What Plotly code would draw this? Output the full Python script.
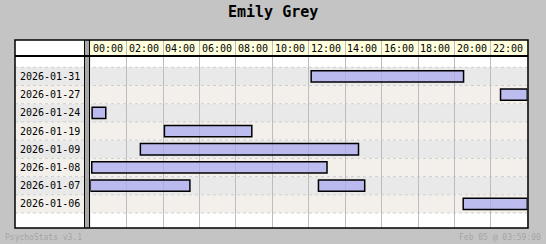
import plotly.graph_objects as go

# Days listed top to bottom, and the play sessions (hours of the day) for each
days = ["2026-01-31", "2026-01-27", "2026-01-24", "2026-01-19",
        "2026-01-09", "2026-01-08", "2026-01-07", "2026-01-06"]
session_day = ["2026-01-31", "2026-01-27", "2026-01-24", "2026-01-19",
               "2026-01-09", "2026-01-08", "2026-01-07", "2026-01-07",
               "2026-01-06"]
session_start = [12.13, 22.53, 0.10, 4.07, 2.75, 0.08, 0.00, 12.53, 20.48]
session_end = [20.50, 24.00, 0.85, 8.87, 14.73, 13.00, 5.47, 15.07, 24.00]
hour_ticks = [0, 2, 4, 6, 8, 10, 12, 14, 16, 18, 20, 22]
hour_labels = ["00:00", "02:00", "04:00", "06:00", "08:00", "10:00",
               "12:00", "14:00", "16:00", "18:00", "20:00", "22:00"]

W, H = 546, 244
MONO = "DejaVu Sans Mono"


def px(x):
    return x / W


def py(y):
    return 1 - y / H


cats = days[::-1]  # bottom-to-top category order
durations = [e - s for s, e in zip(session_start, session_end)]

fig = go.Figure()
fig.add_trace(go.Bar(
    orientation="h",
    y=session_day,
    x=durations,
    base=session_start,
    width=0.62,
    marker=dict(color="rgba(168,168,240,0.72)",
                line=dict(color="black", width=1.5)),
    xaxis="x", yaxis="y",
    hoverinfo="skip",
    showlegend=False,
))

BOX_L, BOX_R, BOX_T, BOX_B = 15, 528, 40, 228
HEAD_B = 57
SEP_L, SEP_R = 84.5, 89.5
PLOT_L, PLOT_R = 90.3, 527.3

shapes = []
# white label column (header cell + padding)
shapes.append(dict(type="rect", xref="paper", yref="paper",
                   x0=px(BOX_L), x1=px(SEP_L), y0=py(BOX_B), y1=py(BOX_T),
                   fillcolor="white", line_width=0, layer="below"))
# header strip
shapes.append(dict(type="rect", xref="paper", yref="paper",
                   x0=px(PLOT_L), x1=px(PLOT_R), y0=py(HEAD_B), y1=py(BOX_T),
                   fillcolor="#ffffdd", line_width=0, layer="below"))
# alternating row bands across label column and plot
for i, d in enumerate(cats):
    shapes.append(dict(type="rect", xref="paper", yref="y",
                       x0=px(BOX_L), x1=px(PLOT_R), y0=i - 0.5, y1=i + 0.5,
                       fillcolor="#f3f0eb" if i % 2 == 0 else "#e9e9e9",
                       line_width=0, layer="below"))
# dashed row separators
for i in range(len(cats) + 1):
    shapes.append(dict(type="line", xref="paper", yref="y",
                       x0=px(BOX_L), x1=px(PLOT_R), y0=i - 0.5, y1=i - 0.5,
                       line=dict(color="#cfcfcf", width=1, dash="3px,3px"),
                       layer="below"))
# column separator (black / grey / black)
shapes.append(dict(type="rect", xref="paper", yref="paper",
                   x0=px(SEP_L), x1=px(SEP_R), y0=py(BOX_B), y1=py(BOX_T),
                   fillcolor="#a8a8a8", line_width=0, layer="above"))
for sx in (SEP_L, SEP_R):
    shapes.append(dict(type="line", xref="paper", yref="paper",
                       x0=px(sx), x1=px(sx), y0=py(BOX_B), y1=py(BOX_T),
                       line=dict(color="black", width=1), layer="above"))
# outer frame and header rule
shapes.append(dict(type="rect", xref="paper", yref="paper",
                   x0=px(BOX_L), x1=px(BOX_R), y0=py(BOX_B), y1=py(BOX_T),
                   line=dict(color="black", width=1.5), layer="above"))
shapes.append(dict(type="line", xref="paper", yref="paper",
                   x0=px(BOX_L), x1=px(BOX_R), y0=py(HEAD_B - 1), y1=py(HEAD_B - 1),
                   line=dict(color="black", width=2), layer="above"))

annotations = []
# row labels
for d in days:
    annotations.append(dict(xref="paper", yref="y", x=px(18), y=d,
                            text=d, showarrow=False, xanchor="left",
                            yanchor="middle",
                            font=dict(family=MONO, size=10, color="black")))
# header hour labels
for h, lab in zip(hour_ticks, hour_labels):
    annotations.append(dict(xref="x2", yref="y2 domain", x=h + 1, y=0.5,
                            text=lab, showarrow=False, xanchor="center",
                            yanchor="middle", xshift=-1,
                            font=dict(family=MONO, size=10, color="black")))
# title and footer
annotations.append(dict(xref="paper", yref="paper", x=0.5, y=py(12),
                        text="<b>Emily Grey</b>", showarrow=False,
                        xanchor="center", yanchor="middle",
                        font=dict(family=MONO, size=15, color="black")))
annotations.append(dict(xref="paper", yref="paper", x=px(3), y=py(237.5),
                        text="PsychoStats v3.1", showarrow=False,
                        xanchor="left", yanchor="middle",
                        font=dict(family=MONO, size=8, color="#a4a4a4")))
annotations.append(dict(xref="paper", yref="paper", x=px(543), y=py(237.5),
                        text="Feb 05 @ 03:59:00", showarrow=False,
                        xanchor="right", yanchor="middle",
                        font=dict(family=MONO, size=8, color="#a4a4a4")))

grid = dict(showgrid=True, gridcolor="#bdbdbd", gridwidth=1,
            tick0=0, dtick=2, zeroline=False, showticklabels=False,
            ticks="", showline=False, range=[0, 24], fixedrange=True)

fig.update_layout(
    width=W, height=H,
    margin=dict(l=0, r=0, t=0, b=0),
    paper_bgcolor="#c4c4c4",
    plot_bgcolor="white",
    barmode="overlay",
    xaxis=dict(domain=[px(PLOT_L), px(PLOT_R)], anchor="y", **grid),
    yaxis=dict(domain=[py(BOX_B), py(HEAD_B)], type="category",
               categoryorder="array", categoryarray=cats,
               range=[-1.324, len(cats) - 0.5 + 0.566],
               showgrid=False, zeroline=False, showticklabels=False,
               ticks="", showline=False, fixedrange=True),
    xaxis2=dict(domain=[px(PLOT_L), px(PLOT_R)], anchor="y2", **grid),
    yaxis2=dict(domain=[py(HEAD_B), py(BOX_T)], range=[0, 1],
                showgrid=False, zeroline=False, showticklabels=False,
                ticks="", showline=False, fixedrange=True),
    shapes=shapes,
    annotations=annotations,
)

fig.write_html("out.html", config={"displayModeBar": False})
